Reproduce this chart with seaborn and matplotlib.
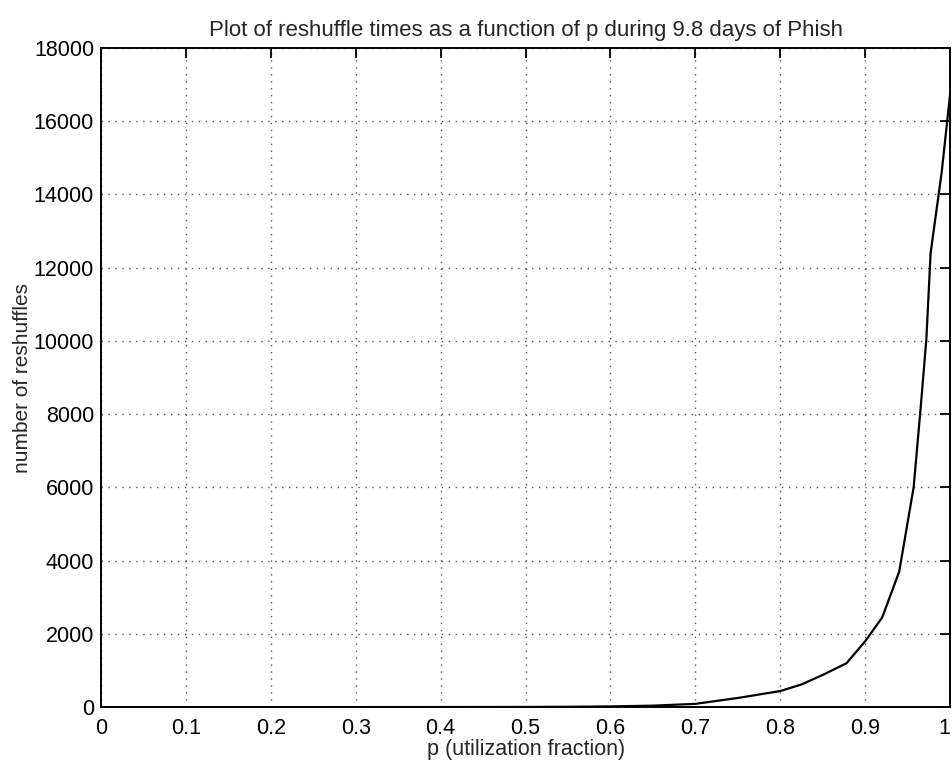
import matplotlib
matplotlib.use('Agg')
import matplotlib.pyplot as plt
import seaborn as sns
import pandas as pd

p_values = [0.0, 0.1, 0.2, 0.3, 0.4, 0.5, 0.55, 0.6, 0.65, 0.7, 0.75, 0.8,
            0.825, 0.85, 0.878, 0.9, 0.92, 0.94, 0.957, 0.965, 0.972, 0.977,
            0.99, 1.0]
reshuffles = [0, 0, 0, 1, 2, 5, 10, 20, 40, 90, 250, 440,
              620, 880, 1200, 1800, 2450, 3700, 6000, 8100, 10050, 12400,
              14600, 16750]

x_ticks = [0, 0.1, 0.2, 0.3, 0.4, 0.5, 0.6, 0.7, 0.8, 0.9, 1]
x_tick_labels = ['0', '0.1', '0.2', '0.3', '0.4', '0.5', '0.6', '0.7', '0.8', '0.9', '1']
y_ticks = [0, 2000, 4000, 6000, 8000, 10000, 12000, 14000, 16000, 18000]

df = pd.DataFrame({'p': p_values, 'reshuffles': reshuffles})

sns.set_style("white")
plt.rcParams['font.family'] = ['Liberation Sans', 'DejaVu Sans']
plt.rcParams['font.size'] = 16

fig = plt.figure(figsize=(9.53, 7.62), dpi=100)
ax = fig.add_axes([0.106, 0.072, 0.891, 0.865])

sns.lineplot(data=df, x='p', y='reshuffles', color='black', linewidth=1.6, ax=ax)

ax.set_xlim(0, 1)
ax.set_ylim(0, 18000)
ax.set_xticks(x_ticks)
ax.set_xticklabels(x_tick_labels)
ax.set_yticks(y_ticks)
# last x label sits right on the figure edge
ax.get_xticklabels()[-1].set_horizontalalignment('right')
ax.grid(True, color='#555555', linestyle=(0, (1, 4)), linewidth=1)
ax.tick_params(direction='in', length=7, width=1.3, top=True, right=True,
               labelsize=15.5, colors='black')
ax.tick_params(axis='x', pad=8)
ax.tick_params(axis='y', pad=5)
for s in ax.spines.values():
    s.set_color('black')
    s.set_linewidth(1.4)

ax.set_title('Plot of reshuffle times as a function of p during 9.8 days of Phish',
             fontsize=16, pad=9)
ax.set_xlabel('p (utilization fraction)', fontsize=15.5, labelpad=0)
ax.set_ylabel('number of reshuffles', fontsize=15, labelpad=1)

fig.savefig('out.png', dpi=100, facecolor='white')
